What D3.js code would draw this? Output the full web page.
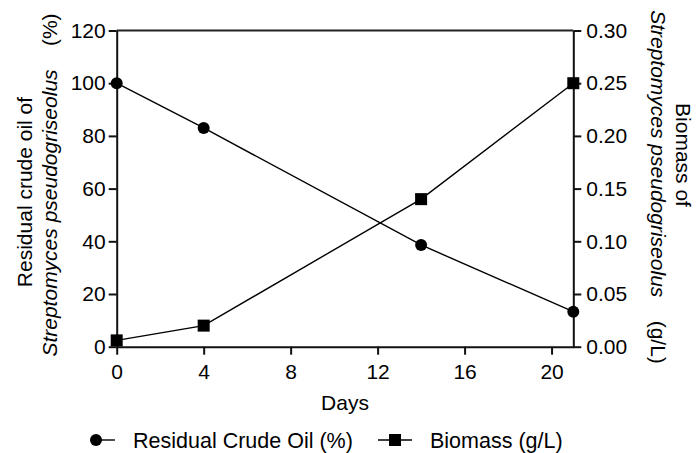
<!DOCTYPE html>
<html>
<head>
<meta charset="utf-8">
<script src="https://cdn.jsdelivr.net/npm/d3@7"></script>
<style>
  body { margin: 0; background: #fff; }
  svg { font-family: "Liberation Sans", Arial, sans-serif; }
</style>
</head>
<body>
<div id="chart"></div>
<script>
// Data
var days = [0, 4, 14, 21];
var residualOil = [100, 83, 38.6, 13.3];      // %
var biomass = [0.006, 0.02, 0.14, 0.25];      // g/L
var xTicks = [0, 4, 8, 12, 16, 20];
var leftTicks = [0, 20, 40, 60, 80, 100, 120];
var rightTicks = [0, 0.05, 0.10, 0.15, 0.20, 0.25, 0.30];

(function () {
    var W = 699, H = 453;
    var m = {left: 116.7, right: 573.3, top: 30.5, bottom: 346.7};
    var fontSize = 21;

    var svg = d3.select('#chart').append('svg')
        .attr('width', W)
        .attr('height', H);

    var x = d3.scaleLinear().domain([0, 21]).range([m.left, m.right]);
    var yL = d3.scaleLinear().domain([0, 120]).range([m.bottom, m.top]);
    var yR = d3.scaleLinear().domain([0, 0.30]).range([m.bottom, m.top]);

    function styleAxis(g) {
        g.selectAll('path, line').attr('stroke', '#111').attr('stroke-width', 2);
        g.selectAll('text').attr('font-size', fontSize).attr('fill', '#000')
            .attr('font-family', '"Liberation Sans", Arial, sans-serif');
    }

    // top border
    svg.append('line')
        .attr('x1', m.left).attr('x2', m.right)
        .attr('y1', m.top).attr('y2', m.top)
        .attr('stroke', '#222').attr('stroke-width', 2);

    svg.append('g')
        .attr('transform', 'translate(0,' + m.bottom + ')')
        .call(d3.axisBottom(x).tickValues(xTicks).tickSize(8).tickSizeOuter(0).tickPadding(9))
        .call(styleAxis);

    svg.append('g')
        .attr('transform', 'translate(' + m.left + ',0)')
        .call(d3.axisLeft(yL).tickValues(leftTicks).tickSize(8).tickSizeOuter(0).tickPadding(3))
        .call(styleAxis);

    svg.append('g')
        .attr('transform', 'translate(' + m.right + ',0)')
        .call(d3.axisRight(yR).tickValues(rightTicks).tickFormat(d3.format('.2f')).tickSize(8).tickSizeOuter(0).tickPadding(5))
        .call(styleAxis);

    // series
    var oilPts = days.map(function (d, i) { return [x(d), yL(residualOil[i])]; });
    var bioPts = days.map(function (d, i) { return [x(d), yR(biomass[i])]; });

    svg.append('path').attr('d', d3.line()(oilPts))
        .attr('fill', 'none').attr('stroke', '#000').attr('stroke-width', 1.4);
    svg.append('path').attr('d', d3.line()(bioPts))
        .attr('fill', 'none').attr('stroke', '#000').attr('stroke-width', 1.4);

    svg.selectAll('.oil').data(oilPts).enter().append('circle')
        .attr('cx', function (p) { return p[0]; })
        .attr('cy', function (p) { return p[1]; })
        .attr('r', 6).attr('fill', '#000');

    svg.selectAll('.bio').data(bioPts).enter().append('rect')
        .attr('x', function (p) { return p[0] - 6; })
        .attr('y', function (p) { return p[1] - 6; })
        .attr('width', 12).attr('height', 12).attr('fill', '#000');

    // x title
    svg.append('text')
        .attr('x', 345).attr('y', 410)
        .attr('text-anchor', 'middle').attr('font-size', fontSize)
        .text('Days');

    // left title
    svg.append('text')
        .attr('transform', 'translate(31.5,192) rotate(-90)')
        .attr('text-anchor', 'middle').attr('font-size', fontSize)
        .text('Residual crude oil of');
    var lt2 = svg.append('text')
        .attr('transform', 'translate(57,185) rotate(-90)')
        .attr('text-anchor', 'middle').attr('font-size', fontSize);
    lt2.append('tspan').attr('font-style', 'italic').text('Streptomyces pseudogriseolus');
    lt2.append('tspan').text('\u00a0\u00a0\u00a0\u00a0(%)');

    // right title
    svg.append('text')
        .attr('transform', 'translate(676,155) rotate(90)')
        .attr('text-anchor', 'middle').attr('font-size', fontSize)
        .text('Biomass of');
    var rt2 = svg.append('text')
        .attr('transform', 'translate(651,187) rotate(90)')
        .attr('text-anchor', 'middle').attr('font-size', fontSize);
    rt2.append('tspan').attr('font-style', 'italic').text('Streptomyces pseudogriseolus');
    rt2.append('tspan').text('\u00a0\u00a0\u00a0\u00a0(g/L)');

    // legend
    var ly = 440, legFont = 21.5;
    var leg = svg.append('g');
    leg.append('line').attr('x1', 96).attr('x2', 115).attr('y1', ly).attr('y2', ly)
        .attr('stroke', '#000').attr('stroke-width', 1.4);
    leg.append('circle').attr('cx', 96).attr('cy', ly).attr('r', 6).attr('fill', '#000');
    leg.append('text').attr('x', 133).attr('y', ly + 7.5).attr('font-size', legFont)
        .text('Residual Crude Oil (%)');
    leg.append('line').attr('x1', 378).attr('x2', 412).attr('y1', ly).attr('y2', ly)
        .attr('stroke', '#000').attr('stroke-width', 1.4);
    leg.append('rect').attr('x', 389).attr('y', ly - 6).attr('width', 12).attr('height', 12).attr('fill', '#000');
    leg.append('text').attr('x', 430).attr('y', ly + 7.5).attr('font-size', legFont)
        .text('Biomass (g/L)');
})();
</script>
</body>
</html>
